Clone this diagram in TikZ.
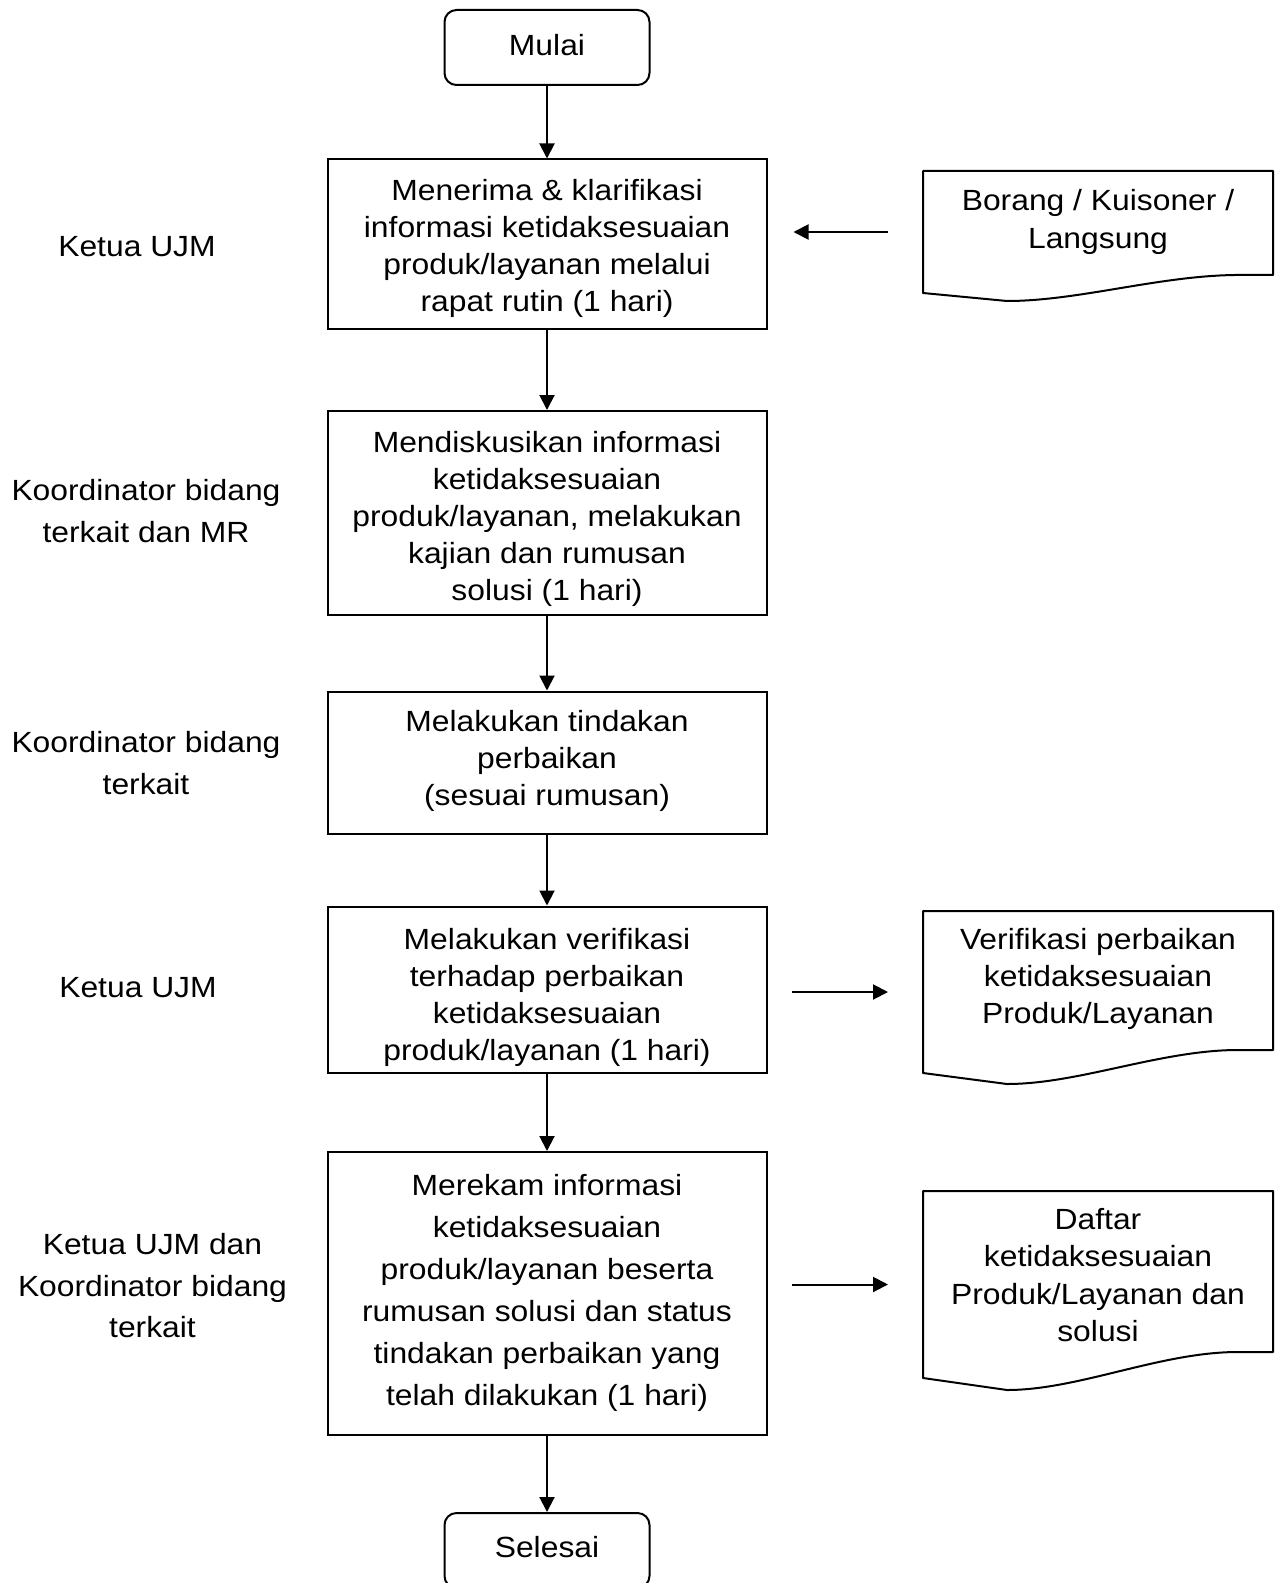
\documentclass[tikz,border=0pt]{standalone}
\usepackage{fontspec}
\setmainfont{Liberation Sans}[FakeStretch=1.09]
\usepackage{tikz}
\usetikzlibrary{calc,arrows.meta}

\begin{document}
\begin{tikzpicture}[x=0.5pt,y=-0.5pt]
 \tikzstyle{arrow} = [line width=1pt,-{Triangle[length=7.5pt,width=7.5pt]}];
 \tikzstyle{txt} = [align=center,inner sep=0pt,font={\fontsize{14.6}{18.6}\selectfont}];
 \tikzstyle{proc} = [txt,draw=black,line width=1pt,minimum width=219.5pt];
 \tikzstyle{term} = [proc,rounded corners=6pt,minimum width=102.5pt,minimum height=37.5pt];
 \tikzstyle{docu} = [txt,minimum width=175pt];
 \tikzstyle{role} = [txt,font={\fontsize{14.6}{20.75}\selectfont}];

 \useasboundingbox (0,0) rectangle (1276,1583);

 % main flow
 \node[term,name=mulai,text depth=3pt] at (547,47.5) {Mulai};
 \node[proc,name=terima,minimum height=84.75pt] at (547,244.25)
                                        {\rule{0pt}{14.6pt}Menerima \& klarifikasi\\
                                         informasi ketidaksesuaian\\
                                         produk/layanan melalui\\
                                         rapat rutin (1 hari)};
 \node[proc,name=diskusi,minimum height=102pt] at (547,513)
                                        {\rule{0pt}{16.6pt}Mendiskusikan informasi\\
                                         ketidaksesuaian\\
                                         produk/layanan, melakukan\\
                                         kajian dan rumusan\\
                                         solusi (1 hari)};
 \node[proc,name=tindak,minimum height=71.25pt,text depth=5pt] at (547,762.75)
                                        {Melakukan tindakan\\
                                         perbaikan\\
                                         (sesuai rumusan)};
 \node[proc,name=verif,minimum height=83.25pt] at (547,989.75)
                                        {\rule{0pt}{18.2pt}Melakukan verifikasi\\
                                         terhadap perbaikan\\
                                         ketidaksesuaian\\
                                         produk/layanan (1 hari)};
 \node[proc,name=rekam,minimum height=141.25pt,
       font={\fontsize{14.6}{21}\selectfont}] at (547,1293.25)
                                        {Merekam informasi\\
                                         ketidaksesuaian\\
                                         produk/layanan beserta\\
                                         rumusan solusi dan status\\
                                         tindakan perbaikan yang\\
                                         telah dilakukan (1 hari)};
 \node[term,name=selesai,text depth=4pt] at (547,1550.5) {Selesai};

 % documents
 \node[docu,name=bor] at (1098,222) {Borang / Kuisoner /\\ Langsung};
 \node[docu,name=ver] at (1098,979) {Verifikasi perbaikan\\ ketidaksesuaian\\ Produk/Layanan};
 \node[docu,name=daf] at (1098,1275) {Daftar\\ ketidaksesuaian\\ Produk/Layanan dan\\ solusi};

 \foreach \d/\t/\r/\l/\p in {bor/51/53/71/79, ver/68/71/94/105, daf/84/77/103/115}
 {
  \draw[line width=1pt,line join=round]
    ($(\d)+(-175,-\t)$) -- ($(\d)+(175,-\t)$) -- ($(\d)+(175,\r)$) -- ($(\d)+(137,\r)$)
    .. controls ($(\d)+(60,\r+1)$) and ($(\d)+(-20,\p)$) .. ($(\d)+(-91,\p)$)
    -- ($(\d)+(-175,\l)$) -- cycle;
  \coordinate (\d-in) at ($(\d)+(-175,{(\l-\t)/2})$);
 }

 % roles
 \node[role,name=r1] at (137,247) {Ketua UJM};
 \node[role,name=r2] at (146,511) {Koordinator bidang\\ terkait dan MR};
 \node[role,name=r3] at (146,763) {Koordinator bidang\\ terkait};
 \node[role,name=r4] at (138,988) {Ketua UJM};
 \node[role,name=r5] at (152.5,1286) {Ketua UJM dan\\ Koordinator bidang\\ terkait};

 \path (mulai) edge [arrow] (terima);
 \path (terima) edge [arrow] (diskusi);
 \path (diskusi) edge [arrow] (tindak);
 \path (tindak) edge [arrow] (verif);
 \path (verif) edge [arrow] (rekam);
 \path (rekam) edge [arrow] (selesai);

 \draw[arrow,shorten <=17.5pt,shorten >=13pt] (bor-in) -- (bor-in -| terima.east);
 \draw[arrow,shorten <=12pt,shorten >=17.5pt] (ver-in -| verif.east) -- (ver-in);
 \draw[arrow,shorten <=12pt,shorten >=17.5pt] (daf-in -| rekam.east) -- (daf-in);
\end{tikzpicture}
\end{document}
